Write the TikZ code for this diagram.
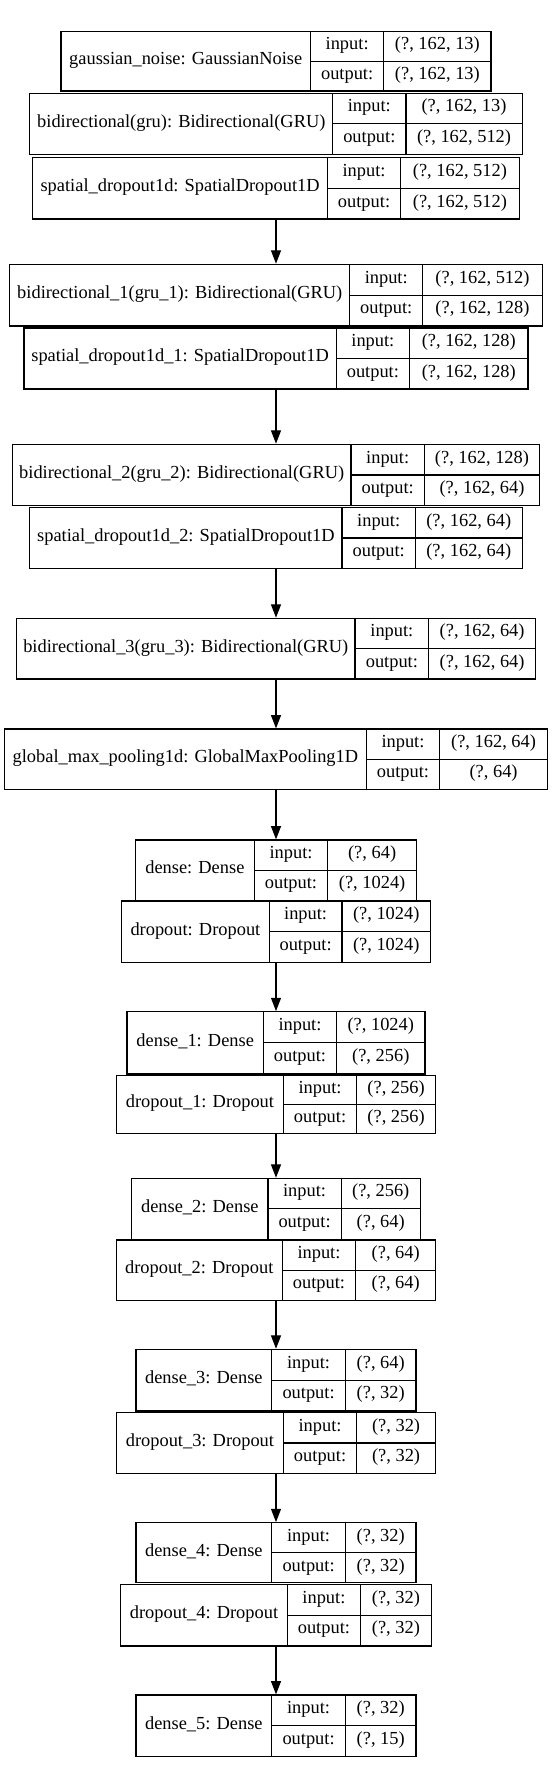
\documentclass[tikz,border=0pt]{standalone}
\usepackage{fontspec}
\setmainfont{Liberation Serif}
\usetikzlibrary{arrows.meta,fit}

% one keras layer: name, left, top, bottom, split1, split2, label, input, output
\newcommand{\kerasnode}[9]{%
  \node[layerbox,fit={(#2,#3) ({522.6-#2},#4)}] (#1) {};
  \draw[divider] (#5,#3) -- (#5,#4) (#6,#3) -- (#6,#4)
    (#5,{(#3+#4)/2}) -- ({522.6-#2},{(#3+#4)/2});
  \node[celltext] (#1-name) at ({(#2+#5)/2},{(#3+#4)/2}) {#7};
  \node[celltext] (#1-ik) at ({(#5+#6)/2},{0.75*#3+0.25*#4}) {input:};
  \node[celltext] (#1-iv) at ({(#6+522.6-#2)/2},{0.75*#3+0.25*#4}) {#8};
  \node[celltext] (#1-ok) at ({(#5+#6)/2},{0.25*#3+0.75*#4}) {output:};
  \node[celltext] (#1-ov) at ({(#6+522.6-#2)/2},{0.25*#3+0.75*#4}) {#9};
}

\begin{document}
\begin{tikzpicture}[
  x=0.7922pt,y=-0.75pt,
  font=\fontsize{13.8pt}{16pt}\selectfont,
  layerbox/.style={draw,inner sep=0pt,line width=0.9pt},
  divider/.style={line width=0.9pt},
  celltext/.style={inner sep=0pt,text height=1.6ex,text depth=0.5ex},
  arrow/.style={-{Triangle[length=10pt,width=7.5pt]},line width=0.9pt}
]
\useasboundingbox (0,0) rectangle (522.6,1782);
\kerasnode{gauss}{57.7}{31.7}{91}{294}{363.3}{gaussian\_noise: GaussianNoise}{(?, 162, 13)}{(?, 162, 13)}
\kerasnode{bidir}{28.3}{93.3}{154.3}{315}{384.3}{bidirectional(gru): Bidirectional(GRU)}{(?, 162, 13)}{(?, 162, 512)}
\kerasnode{sdrop}{31}{157.7}{219}{310}{379.3}{spatial\_dropout1d: SpatialDropout1D}{(?, 162, 512)}{(?, 162, 512)}
\kerasnode{bidira}{9.3}{264.3}{326}{331}{400.3}{bidirectional\_1(gru\_1): Bidirectional(GRU)}{(?, 162, 512)}{(?, 162, 128)}
\kerasnode{sdropa}{22.7}{328}{389}{318.3}{387.7}{spatial\_dropout1d\_1: SpatialDropout1D}{(?, 162, 128)}{(?, 162, 128)}
\kerasnode{bidirb}{11.7}{444.3}{505.7}{332.3}{401.7}{bidirectional\_2(gru\_2): Bidirectional(GRU)}{(?, 162, 128)}{(?, 162, 64)}
\kerasnode{sdropb}{28.3}{507.7}{568.3}{323.7}{393.3}{spatial\_dropout1d\_2: SpatialDropout1D}{(?, 162, 64)}{(?, 162, 64)}
\kerasnode{bidirc}{15.7}{618.3}{679}{336}{406}{bidirectional\_3(gru\_3): Bidirectional(GRU)}{(?, 162, 64)}{(?, 162, 64)}
\kerasnode{gmp}{4.3}{729}{789.3}{346.7}{416.3}{global\_max\_pooling1d: GlobalMaxPooling1D}{(?, 162, 64)}{(?, 64)}
\kerasnode{dense}{128.3}{840}{900.7}{240.7}{310.3}{dense: Dense}{(?, 64)}{(?, 1024)}
\kerasnode{drop}{115}{901}{962.3}{255}{323.7}{dropout: Dropout}{(?, 1024)}{(?, 1024)}
\kerasnode{densea}{120.3}{1011.7}{1074}{249.3}{318.7}{dense\_1: Dense}{(?, 1024)}{(?, 256)}
\kerasnode{dropa}{110.3}{1075.3}{1133.7}{268.3}{337.7}{dropout\_1: Dropout}{(?, 256)}{(?, 256)}
\kerasnode{denseb}{124.7}{1178.3}{1239.3}{253.7}{323}{dense\_2: Dense}{(?, 256)}{(?, 64)}
\kerasnode{dropb}{110}{1240}{1300.7}{267.3}{336.7}{dropout\_2: Dropout}{(?, 64)}{(?, 64)}
\kerasnode{densec}{128.7}{1349.3}{1411}{257.3}{327}{dense\_3: Dense}{(?, 64)}{(?, 32)}
\kerasnode{dropc}{110.3}{1412.7}{1473.3}{268.3}{337.7}{dropout\_3: Dropout}{(?, 32)}{(?, 32)}
\kerasnode{densed}{128.7}{1522.7}{1582.7}{257.3}{327}{dense\_4: Dense}{(?, 32)}{(?, 32)}
\kerasnode{dropd}{114.3}{1584.3}{1646}{272}{341.3}{dropout\_4: Dropout}{(?, 32)}{(?, 32)}
\kerasnode{densee}{128.7}{1695}{1756.7}{257.3}{327}{dense\_5: Dense}{(?, 32)}{(?, 15)}
\draw[arrow] (sdrop) -- (bidira);
\draw[arrow] (sdropa) -- (bidirb);
\draw[arrow] (sdropb) -- (bidirc);
\draw[arrow] (bidirc) -- (gmp);
\draw[arrow] (gmp) -- (dense);
\draw[arrow] (drop) -- (densea);
\draw[arrow] (dropa) -- (denseb);
\draw[arrow] (dropb) -- (densec);
\draw[arrow] (dropc) -- (densed);
\draw[arrow] (dropd) -- (densee);
\end{tikzpicture}
\end{document}
